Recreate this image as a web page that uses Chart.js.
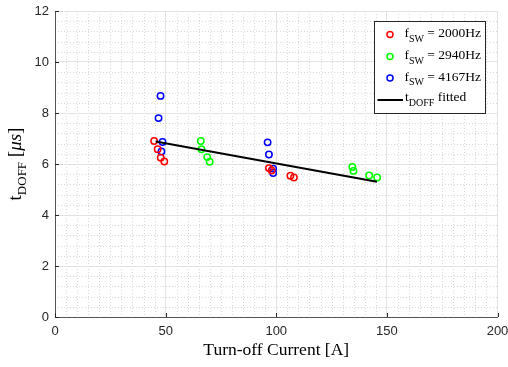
<!DOCTYPE html>
<html>
<head>
<meta charset="utf-8">
<script src="https://cdn.jsdelivr.net/npm/chart.js@4/dist/chart.umd.min.js"></script>
<style>
  html, body { margin: 0; padding: 0; background: #ffffff; }
  #wrap { width: 508px; height: 367px; position: relative; }
</style>
</head>
<body>
<div id="wrap"><canvas id="c" width="508" height="367"></canvas></div>
<script>
// ---- data ----
const currentRed   = [44.8, 46.4, 47.8, 49.4, 96.7, 97.9, 106.4, 108.0];
const tdoffRed     = [6.90, 6.58, 6.25, 6.10, 5.84, 5.75, 5.54, 5.47];
const currentGreen = [65.9, 66.2, 68.8, 69.9, 134.4, 134.9, 142.0, 145.6];
const tdoffGreen   = [6.90, 6.58, 6.27, 6.09, 5.88, 5.73, 5.55, 5.47];
const currentBlue  = [47.7, 46.8, 48.6, 48.1, 96.1, 96.7, 98.6, 98.6];
const tdoffBlue    = [8.67, 7.80, 6.86, 6.49, 6.85, 6.37, 5.82, 5.65];
const fitCurrent   = [45.5, 145.5];
const fitTdoff     = [6.88, 5.30];

const legendFreqs  = ['2000Hz', '2940Hz', '4167Hz'];
const xTicks = [0, 50, 100, 150, 200];
const yTicks = [0, 2, 4, 6, 8, 10, 12];

function pts(xs, ys) { return xs.map((x, i) => ({x: x, y: ys[i]})); }

const AXIS = '#262626';
const SERIF = '"Liberation Serif", "Times New Roman", serif';
const SANS = '"Liberation Sans", Arial, sans-serif';

const customPlugin = {
  id: 'matlabStyle',
  beforeDraw(chart) {
    const {ctx, chartArea: a, scales: {x, y}} = chart;
    ctx.save();
    ctx.fillStyle = '#ffffff';
    ctx.fillRect(0, 0, chart.width, chart.height);
    // minor grid (dotted)
    ctx.strokeStyle = '#d9d9d9';
    ctx.lineWidth = 1;
    ctx.setLineDash([1, 2]);
    for (let v = 5; v < 200; v += 5) {
      if (v % 50 === 0) continue;
      const px = Math.round(x.getPixelForValue(v)) + 0.5;
      ctx.beginPath(); ctx.moveTo(px, a.top); ctx.lineTo(px, a.bottom); ctx.stroke();
    }
    for (let k = 1; k < 30; k++) {
      if (k % 5 === 0) continue;
      const v = k * 0.4;
      const py = Math.round(y.getPixelForValue(v)) + 0.5;
      ctx.beginPath(); ctx.moveTo(a.left, py); ctx.lineTo(a.right, py); ctx.stroke();
    }
    ctx.restore();
  },
  afterDraw(chart) {
    const {ctx, chartArea: a, scales: {x, y}} = chart;
    ctx.save();
    // inward ticks
    ctx.strokeStyle = AXIS;
    ctx.lineWidth = 1;
    xTicks.forEach(v => {
      const px = Math.round(x.getPixelForValue(v)) + 0.5;
      ctx.beginPath(); ctx.moveTo(px, a.bottom); ctx.lineTo(px, a.bottom - 4); ctx.stroke();
    });
    yTicks.forEach(v => {
      const py = Math.round(y.getPixelForValue(v)) + 0.5;
      ctx.beginPath(); ctx.moveTo(a.left, py); ctx.lineTo(a.left + 4, py); ctx.stroke();
    });

    // y axis title: t_DOFF [μs]
    ctx.translate(21, (a.top + a.bottom) / 2);
    ctx.rotate(-Math.PI / 2);
    ctx.fillStyle = '#000000';
    ctx.textBaseline = 'alphabetic';
    const fMain = '19px ' + SERIF, fSub = '13px ' + SERIF, fIt = 'italic 19px ' + SERIF;
    const parts = [
      {t: 't', f: fMain, dy: 0},
      {t: 'DOFF', f: fSub, dy: 5},
      {t: ' [', f: fMain, dy: 0},
      {t: 'μs', f: fIt, dy: 0},
      {t: ']', f: fMain, dy: 0}
    ];
    let total = 0;
    parts.forEach(p => { ctx.font = p.f; p.w = ctx.measureText(p.t).width; total += p.w; });
    let cx = -total / 2;
    parts.forEach(p => { ctx.font = p.f; ctx.fillText(p.t, cx, p.dy); cx += p.w; });
    ctx.setTransform(1, 0, 0, 1, 0, 0);

    // legend box
    const bx = 374.5, by = 21.5, bw = 111, bh = 92;
    ctx.fillStyle = '#ffffff';
    ctx.fillRect(bx, by, bw, bh);
    ctx.strokeStyle = '#262626';
    ctx.lineWidth = 1;
    ctx.strokeRect(bx, by, bw, bh);
    const colors = chart.data.datasets.map(d => d.borderColor);
    const rowsY = [34.5, 56.5, 78, 100];
    const lf = '13.5px ' + SERIF, ls = '10px ' + SERIF;
    for (let i = 0; i < 3; i++) {
      ctx.beginPath();
      ctx.strokeStyle = colors[i];
      ctx.lineWidth = 1.5;
      ctx.arc(390, rowsY[i], 3, 0, Math.PI * 2);
      ctx.stroke();
      let tx = 404.5, base = rowsY[i] + 2.5;
      ctx.fillStyle = '#000000';
      ctx.font = lf; ctx.fillText('f', tx, base); tx += ctx.measureText('f').width;
      ctx.font = ls; ctx.fillText('SW', tx, base + 4.5); tx += ctx.measureText('SW').width;
      ctx.font = lf; ctx.fillText(' = ' + legendFreqs[i], tx, base);
    }
    ctx.beginPath();
    ctx.strokeStyle = '#000000';
    ctx.lineWidth = 2;
    ctx.moveTo(377.5, rowsY[3]); ctx.lineTo(403, rowsY[3]);
    ctx.stroke();
    let tx = 405, base = rowsY[3] + 1;
    ctx.fillStyle = '#000000';
    ctx.font = lf; ctx.fillText('t', tx, base); tx += ctx.measureText('t').width;
    ctx.font = ls; ctx.fillText('DOFF', tx, base + 5); tx += ctx.measureText('DOFF').width;
    ctx.font = lf; ctx.fillText(' fitted', tx, base);
    ctx.restore();
  }
};

const scatterStyle = (color) => ({
  borderColor: color,
  backgroundColor: 'rgba(0,0,0,0)',
  pointStyle: 'circle',
  pointRadius: 3.2,
  pointHoverRadius: 3.2,
  pointBorderWidth: 1.5,
  showLine: false
});

new Chart(document.getElementById('c'), {
  type: 'scatter',
  data: {
    datasets: [
      Object.assign({label: 'fSW = 2000Hz', data: pts(currentRed, tdoffRed)}, scatterStyle('#ff0000')),
      Object.assign({label: 'fSW = 2940Hz', data: pts(currentGreen, tdoffGreen)}, scatterStyle('#00ff00')),
      Object.assign({label: 'fSW = 4167Hz', data: pts(currentBlue, tdoffBlue)}, scatterStyle('#0000ff')),
      {
        label: 'tDOFF fitted',
        data: pts(fitCurrent, fitTdoff),
        showLine: true,
        borderColor: '#000000',
        borderWidth: 2,
        pointRadius: 0,
        fill: false,
        order: -1
      }
    ]
  },
  options: {
    responsive: false,
    animation: false,
    events: [],
    layout: { padding: { top: 11, right: 10.5, left: 0, bottom: 0 } },
    plugins: {
      legend: { display: false },
      tooltip: { enabled: false },
      title: { display: false }
    },
    scales: {
      x: {
        type: 'linear',
        min: 0, max: 200,
        afterBuildTicks: (s) => { s.ticks = xTicks.map(v => ({value: v})); },
        afterFit: (s) => { s.height = 50; s.paddingLeft = 0; s.paddingRight = 0; },
        ticks: { color: AXIS, font: { family: SANS, size: 13 }, padding: 7, maxRotation: 0 },
        grid: { color: '#e3e3e3', lineWidth: 1, drawTicks: false },
        border: { display: true, color: '#555555', width: 1 },
        title: {
          display: true,
          text: 'Turn-off Current [A]',
          color: '#000000',
          font: { family: SERIF, size: 17.5 },
          padding: { top: 0, bottom: 6 }
        }
      },
      y: {
        type: 'linear',
        min: 0, max: 12,
        afterBuildTicks: (s) => { s.ticks = yTicks.map(v => ({value: v})); },
        afterFit: (s) => { s.width = 55; s.paddingTop = 0; s.paddingBottom = 0; },
        ticks: { color: AXIS, font: { family: SANS, size: 13 }, padding: 6 },
        grid: { color: '#e3e3e3', lineWidth: 1, drawTicks: false },
        border: { display: true, color: '#555555', width: 1 }
      }
    }
  },
  plugins: [customPlugin]
});
</script>
</body>
</html>
